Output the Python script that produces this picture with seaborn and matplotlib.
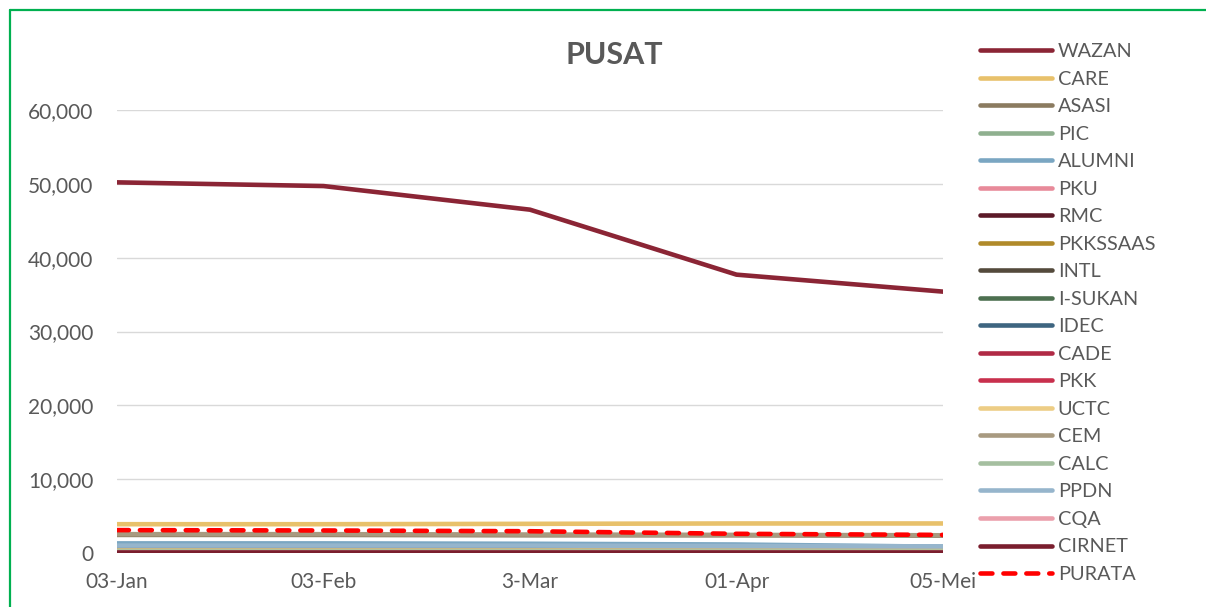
import matplotlib
matplotlib.use("Agg")
import matplotlib.pyplot as plt
from matplotlib.lines import Line2D
import seaborn as sns
import pandas as pd

dates = ["03-Jan", "03-Feb", "3-Mar", "01-Apr", "05-Mei"]

wazan = [50200, 49700, 46500, 37700, 35400]
care = [3900, 3900, 3950, 4000, 4000]
asasi = [2450, 2450, 2400, 2400, 2350]
pic = [600, 600, 600, 550, 550]
alumni = [1300, 1300, 1250, 1150, 850]
pku = [300, 300, 300, 300, 300]
rmc = [200, 200, 200, 200, 200]
pkkssaas = [450, 450, 450, 450, 450]
intl = [500, 500, 500, 500, 480]
isukan = [450, 450, 450, 430, 420]
idec = [750, 750, 750, 700, 650]
cade = [250, 250, 250, 250, 250]
pkk = [200, 200, 200, 200, 200]
uctc = [350, 350, 350, 350, 350]
cem = [2550, 2550, 2500, 2450, 2400]
calc = [300, 300, 300, 300, 300]
ppdn = [1000, 1000, 1000, 950, 900]
cqa = [150, 150, 150, 150, 150]
cirnet = [100, 100, 100, 100, 100]
purata = [3100, 3050, 2950, 2600, 2450]

series = [
    ("WAZAN", wazan, "#8B2535"),
    ("CARE", care, "#E8C16B"),
    ("ASASI", asasi, "#8B7B60"),
    ("PIC", pic, "#8FB08F"),
    ("ALUMNI", alumni, "#7AA6C2"),
    ("PKU", pku, "#E88A9A"),
    ("RMC", rmc, "#5C1A28"),
    ("PKKSSAAS", pkkssaas, "#B08A2A"),
    ("INTL", intl, "#544A3C"),
    ("I-SUKAN", isukan, "#4D7050"),
    ("IDEC", idec, "#3E6580"),
    ("CADE", cade, "#B02A45"),
    ("PKK", pkk, "#C8304D"),
    ("UCTC", uctc, "#EDCD85"),
    ("CEM", cem, "#A89A80"),
    ("CALC", calc, "#A5BFA0"),
    ("PPDN", ppdn, "#96B5CC"),
    ("CQA", cqa, "#EBA0AC"),
    ("CIRNET", cirnet, "#7A1E2E"),
    ("PURATA", purata, "#FF0000"),
]

sns.set_style("white")
plt.rcParams["font.family"] = ["Lato", "DejaVu Sans"]

fig = plt.figure(figsize=(12.06, 6.07), dpi=100)
ax = fig.add_axes([117 / 1206, 1 - 553 / 607, (943 - 117) / 1206, (553 - 110) / 607])

dash = (0, (2.6, 2.4))
handles = []
for name, vals, col in series:
    df = pd.DataFrame({"date": dates, "value": vals})
    dashed = name == "PURATA"
    sns.lineplot(data=df, x="date", y="value", ax=ax, color=col, lw=3.3,
                 linestyle=dash if dashed else "-",
                 solid_capstyle="round", dash_capstyle="round", sort=False)
    handles.append(Line2D([0], [0], color=col, lw=3.3,
                          linestyle=dash if dashed else "-",
                          solid_capstyle="round", dash_capstyle="round", label=name))

ax.set_xlim(0, 4)
ax.set_ylim(0, 60000)
ax.set_yticks(range(0, 60001, 10000))
ax.set_yticklabels([f"{v:,}" for v in range(0, 60001, 10000)])
ax.set_xlabel("")
ax.set_ylabel("")
ax.grid(axis="y", color="#D9D9D9", lw=1)
ax.set_axisbelow(True)
for s in ax.spines.values():
    s.set_visible(False)
ax.tick_params(axis="y", length=0, pad=17, labelsize=15, labelcolor="#595959")
ax.tick_params(axis="x", length=0, pad=14, labelsize=15, labelcolor="#595959")

fig.text(614 / 1206, 1 - 55 / 607, "PUSAT", ha="center", va="center",
         fontsize=22, fontweight="bold", color="#595959")

fig.legend(handles=handles, loc="upper left", bbox_to_anchor=(980 / 1206, 1 - 43 / 607),
           frameon=False, fontsize=14.3, labelspacing=0.53, handlelength=3.62,
           handletextpad=0.30, labelcolor="#595959", borderaxespad=0, borderpad=0)

# green frame
fig.add_artist(Line2D([10 / 1206, 10 / 1206], [0, 1 - 10 / 607], color="#00B050", lw=1.6,
                      transform=fig.transFigure))
fig.add_artist(Line2D([10 / 1206, 1], [1 - 10 / 607, 1 - 10 / 607], color="#00B050", lw=1.6,
                      transform=fig.transFigure))

fig.savefig("out.png", dpi=100)
